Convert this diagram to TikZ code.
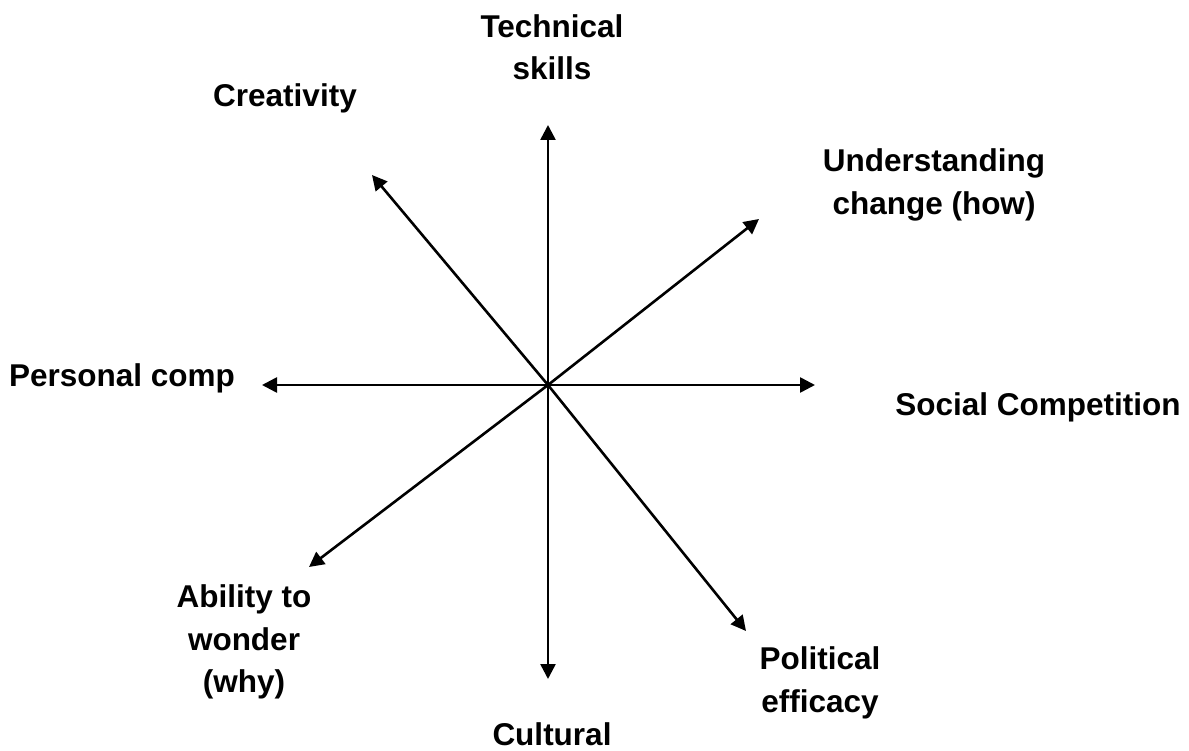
\documentclass[tikz,border=0pt]{standalone}
\usepackage{fontspec}
\setmainfont{Liberation Sans}
\usetikzlibrary{arrows.meta}
\begin{document}
\begin{tikzpicture}[x=1pt,y=-1pt,
        lbl/.style={font=\fontsize{31.5}{42.5}\selectfont\bfseries,
          align=center,inner sep=0pt},
        ray/.style={line width=2.6pt,-{Triangle[length=15pt,width=15pt]}}]
      \useasboundingbox (0,0) rectangle (1189,751);
      \coordinate (o) at (548,385);
      \coordinate (tn) at (548,125);
      \coordinate (ts) at (548,679);
      \coordinate (tw) at (262,385);
      \coordinate (te) at (815,385);
      \coordinate (tnw) at (372,175);
      \coordinate (tne) at (759,219);
      \coordinate (tsw) at (309,567);
      \coordinate (tse) at (746,631);
      \node (tech) at (552,47) [lbl] {Technical\\skills};
      \node (crea) at (285,98) [lbl] {Creativity};
      \node (und) at (934,185) [lbl] {Understanding\\change (how)};
      \node (pers) at (122,378) [lbl] {Personal comp};
      \node (soc) at (1038,407) [lbl] {Social Competition};
      \node (abil) at (244,642) [lbl] {Ability to\\wonder\\(why)};
      \node (pol) at (820,683) [lbl] {Political\\efficacy};
      \node (cult) at (552,734) [lbl] {Cultural};
      \draw (o) edge[ray] (tn);
      \draw (o) edge[ray] (ts);
      \draw (o) edge[ray] (tw);
      \draw (o) edge[ray] (te);
      \draw (o) edge[ray] (tnw);
      \draw (o) edge[ray] (tne);
      \draw (o) edge[ray] (tsw);
      \draw (o) edge[ray] (tse);
\end{tikzpicture}
\end{document}
